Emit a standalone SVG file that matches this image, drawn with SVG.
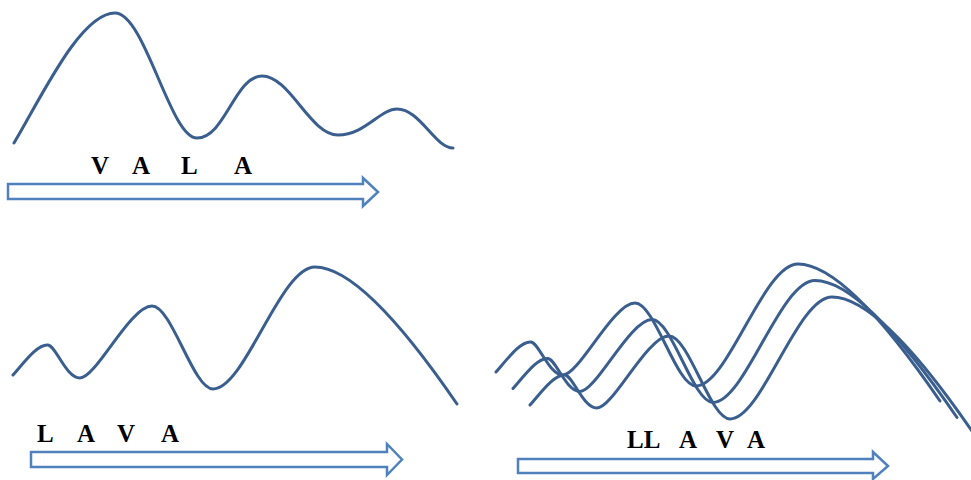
<svg xmlns="http://www.w3.org/2000/svg" width="971" height="480" viewBox="0 0 971 480">
<style>
.wave{fill:none;stroke:#3A5F8E;stroke-width:3;stroke-linecap:round;stroke-linejoin:round}
.arrow{fill:#FFFFFF;stroke:#4F81BD;stroke-width:2.5;stroke-linejoin:miter}
.lbl{font-family:"Liberation Serif","Times New Roman",serif;font-weight:bold;font-size:25px;fill:#000000}
</style>
<defs>
<path id="waveB" d="M13,375 C26,360 38,344 48,345 C56,346 66,378 80,378 C96,378 130,306 152,306 C172,306 193,389 213,389 C245,389 280,267 315,267 C358,267 420,350 457,404"/>
</defs>
<rect width="971" height="480" fill="#FFFFFF"/>
<g id="panel-vala">
<path class="wave" d="M14,143 C40,100 80,13 115,13 C145,13 170,138 197,138 C225,138 235,76 262,76 C290,76 310,135 338,135 C365,135 380,109 397,109 C420,109 435,148 453,148"/>
<text class="lbl" y="174"><tspan x="91">V</tspan><tspan x="132">A</tspan><tspan x="181">L</tspan><tspan x="234">A</tspan></text>
<path class="arrow" d="M8,184 L363,184 L363,178 L378,192 L363,206 L363,199 L8,199 Z"/>
</g>
<g id="panel-lava">
<use href="#waveB" class="wave"/>
<text class="lbl" y="442"><tspan x="37">L</tspan><tspan x="77">A</tspan><tspan x="117">V</tspan><tspan x="161">A</tspan></text>
<path class="arrow" d="M31,452 L387,452 L387,444 L402,459.5 L387,475 L387,467 L31,467 Z"/>
</g>
<g id="panel-llava">
<use href="#waveB" class="wave" transform="translate(483,-3)"/>
<use href="#waveB" class="wave" transform="translate(500,13.5)"/>
<use href="#waveB" class="wave" transform="translate(517,30)"/>
<text class="lbl" y="448"><tspan x="627">LL</tspan><tspan x="679">A</tspan><tspan x="716">V</tspan><tspan x="747">A</tspan></text>
<path class="arrow" d="M518,459 L873,459 L873,452 L888,466 L873,479 L873,473 L518,473 Z"/>
</g>
</svg>
